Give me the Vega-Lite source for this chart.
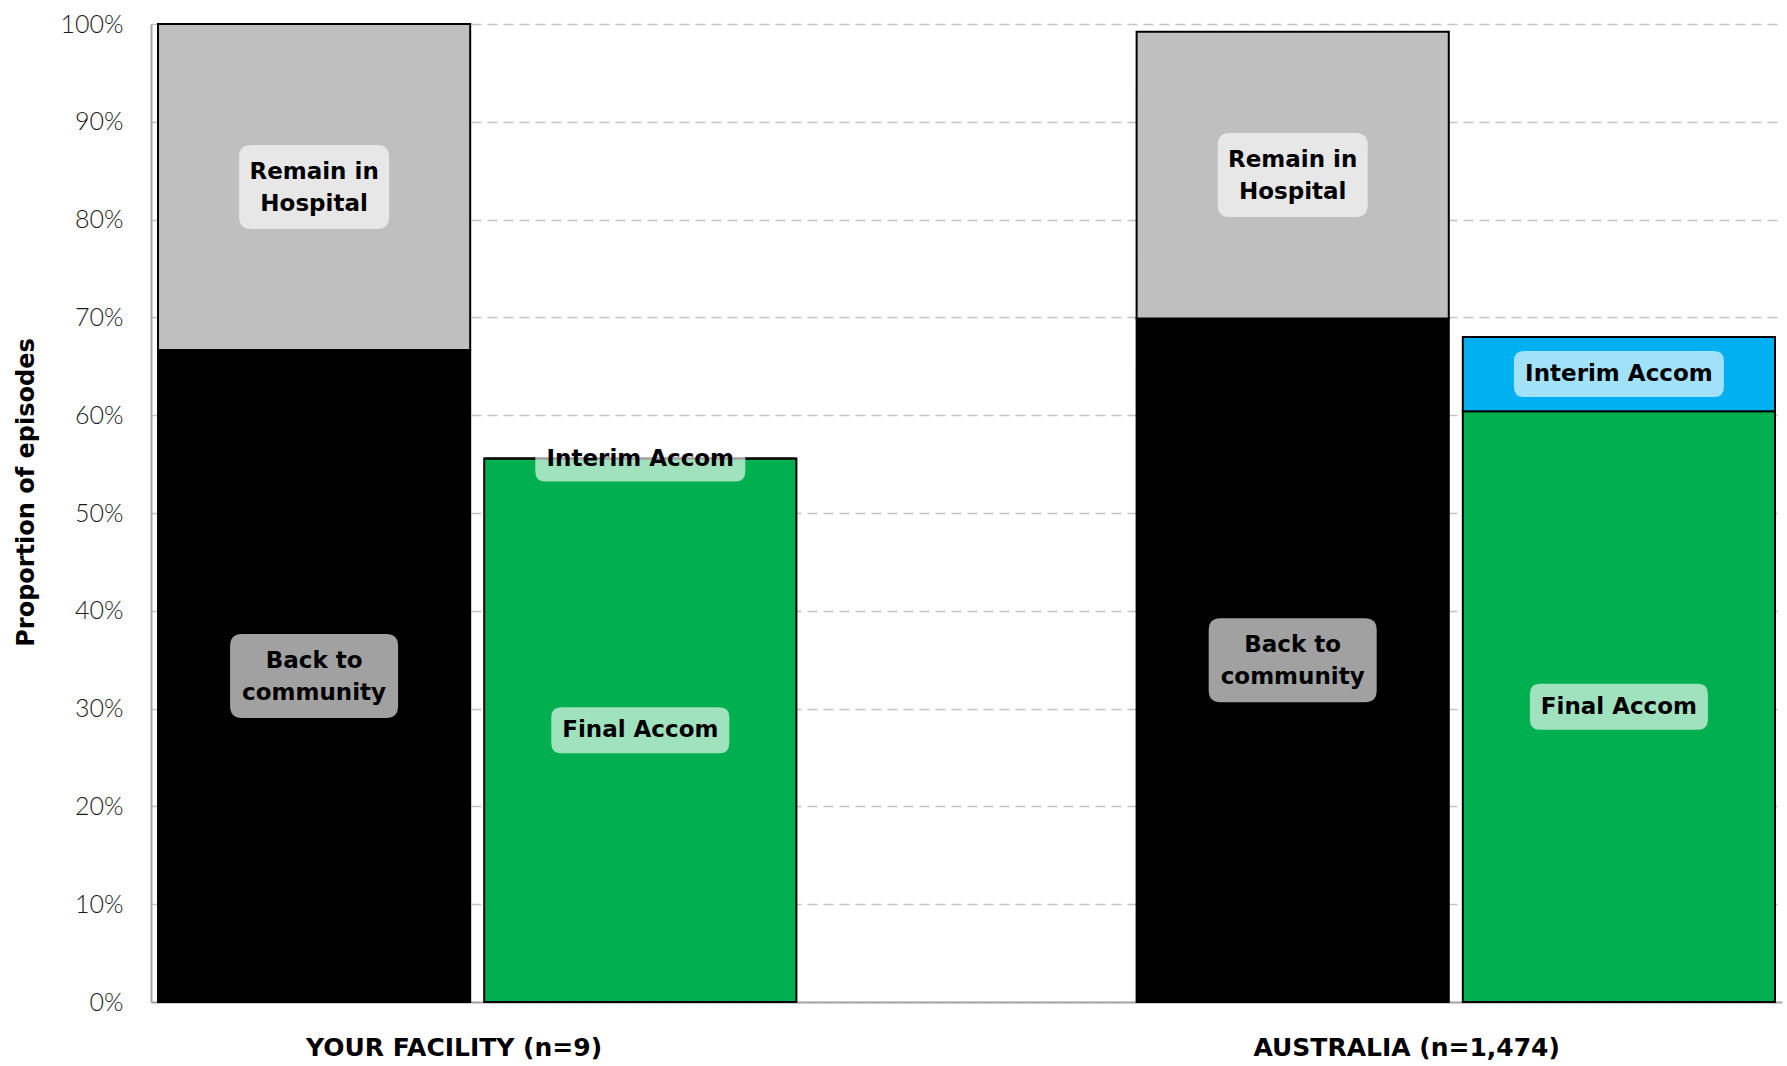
{
  "$schema": "https://vega.github.io/schema/vega-lite/v6.json",
  "width": 1631,
  "height": 978,
  "autosize": "none",
  "padding": {"left": 151, "top": 24, "right": 5, "bottom": 64},
  "background": "white",
  "config": {"view": {"stroke": null}},
  "data": {
    "values": [
      {"slot": "YF1", "category": "Back to community", "label": "Back to\ncommunity", "value": 0.6667},
      {"slot": "YF1", "category": "Remain in Hospital", "label": "Remain in\nHospital", "value": 0.3333},
      {"slot": "YF2", "category": "Final Accom", "label": "Final Accom", "value": 0.5556},
      {"slot": "YF2", "category": "Interim Accom", "label": "Interim Accom", "value": 0.0},
      {"slot": "AU1", "category": "Back to community", "label": "Back to\ncommunity", "value": 0.699},
      {"slot": "AU1", "category": "Remain in Hospital", "label": "Remain in\nHospital", "value": 0.293},
      {"slot": "AU2", "category": "Final Accom", "label": "Final Accom", "value": 0.604},
      {"slot": "AU2", "category": "Interim Accom", "label": "Interim Accom", "value": 0.076}
    ]
  },
  "transform": [
    {"stack": "value", "groupby": ["slot"], "sort": [{"field": "category", "order": "ascending"}], "as": ["v0", "v1"]},
    {"calculate": "(datum.v0 + datum.v1) / 2", "as": "mid"}
  ],
  "encoding": {
    "x": {
      "field": "slot",
      "type": "nominal",
      "sort": null,
      "scale": {"domain": ["YF1", "YF2", "gap", "AU1", "AU2"], "paddingInner": 0.043, "paddingOuter": 0.0215},
      "axis": {
        "title": null,
        "labelExpr": "datum.value == 'YF1' ? 'YOUR FACILITY (n=9)' : datum.value == 'AU1' ? 'AUSTRALIA (n=1,474)' : ''",
        "labelAngle": 0,
        "labelOffset": {"condition": {"test": "datum.value == 'YF1'", "value": 140}, "value": 114},
        "labelLimit": 0,
        "labelFont": "DejaVu Sans",
        "labelFontWeight": "bold",
        "labelFontSize": 25,
        "labelColor": "#000000",
        "labelBaseline": "middle",
        "labelPadding": 45,
        "ticks": false,
        "domainColor": "#a6a6a6",
        "domainWidth": 2,
        "grid": false
      }
    }
  },
  "layer": [
    {
      "mark": {"type": "bar", "stroke": "#000000", "strokeWidth": 2},
      "encoding": {
        "y": {
          "field": "v0",
          "type": "quantitative",
          "scale": {"domain": [0, 1], "nice": false},
          "axis": {
            "title": "Proportion of episodes",
            "titleFont": "DejaVu Sans",
            "titleFontWeight": "bold",
            "titleFontSize": 24,
            "titleColor": "#000000",
            "titlePadding": 22,
            "titleY": 468,
            "values": [0, 0.1, 0.2, 0.3, 0.4, 0.5, 0.6, 0.7, 0.8, 0.9, 1.0],
            "format": ".0%",
            "labelFont": "Lato",
            "labelFontWeight": 300,
            "labelFontSize": 25,
            "labelColor": "#1a1a1a",
            "labelPadding": 28,
            "ticks": false,
            "domainColor": "#a6a6a6",
            "domainWidth": 2,
            "grid": true,
            "gridColor": "#c4c4c4",
            "gridDash": [10, 6],
            "gridWidth": 1.6
          }
        },
        "y2": {"field": "v1"},
        "color": {
          "field": "category",
          "type": "nominal",
          "scale": {
            "domain": ["Back to community", "Remain in Hospital", "Final Accom", "Interim Accom"],
            "range": ["#000000", "#bfbfbf", "#00b050", "#00b0f0"]
          },
          "legend": null
        }
      }
    },
    {
      "mark": {"type": "point", "filled": true, "fill": "#ffffff", "fillOpacity": 0.63, "opacity": 1, "strokeWidth": 0, "size": 4},
      "encoding": {
        "y": {"field": "mid", "type": "quantitative"},
        "shape": {
          "field": "category",
          "type": "nominal",
          "scale": {
            "domain": ["Back to community", "Remain in Hospital", "Final Accom", "Interim Accom"],
            "range": [
              "M-72,-42L72,-42Q84,-42 84,-30L84,30Q84,42 72,42L-72,42Q-84,42 -84,30L-84,-30Q-84,-42 -72,-42Z",
              "M-63,-42L63,-42Q75,-42 75,-30L75,30Q75,42 63,42L-63,42Q-75,42 -75,30L-75,-30Q-75,-42 -63,-42Z",
              "M-79,-23L79,-23Q89,-23 89,-13L89,13Q89,23 79,23L-79,23Q-89,23 -89,13L-89,-13Q-89,-23 -79,-23Z",
              "M-95,-23L95,-23Q105,-23 105,-13L105,13Q105,23 95,23L-95,23Q-105,23 -105,13L-105,-13Q-105,-23 -95,-23Z"
            ]
          },
          "legend": null
        }
      }
    },
    {
      "transform": [{"filter": "indexof(datum.label, '\\n') < 0"}],
      "mark": {"type": "text", "font": "DejaVu Sans", "fontWeight": "bold", "fontSize": 23, "baseline": "middle", "align": "center", "color": "#000000"},
      "encoding": {
        "y": {"field": "mid", "type": "quantitative"},
        "text": {"field": "label"}
      }
    },
    {
      "transform": [{"filter": "indexof(datum.label, '\\n') >= 0"}],
      "mark": {"type": "text", "font": "DejaVu Sans", "fontWeight": "bold", "fontSize": 23, "lineHeight": 32, "lineBreak": "\n", "baseline": "middle", "dy": -15, "align": "center", "color": "#000000"},
      "encoding": {
        "y": {"field": "mid", "type": "quantitative"},
        "text": {"field": "label"}
      }
    }
  ]
}
